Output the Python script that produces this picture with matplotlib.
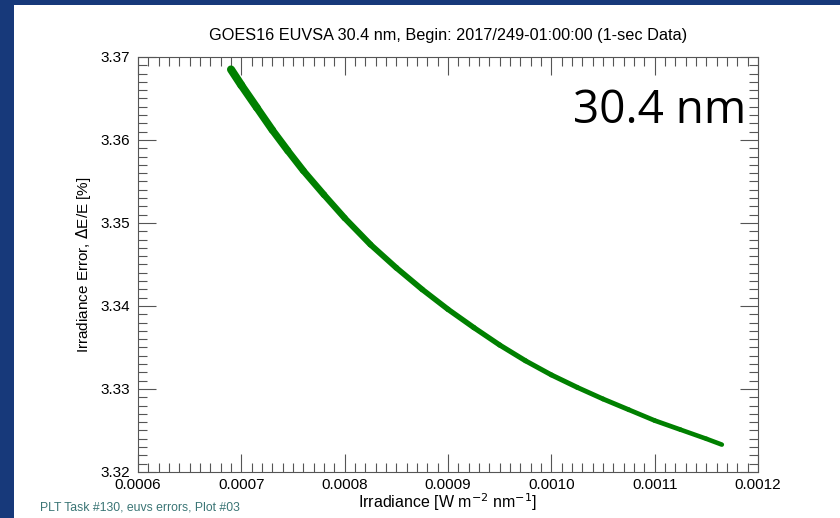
import matplotlib
matplotlib.use("Agg")
import matplotlib.pyplot as plt
from matplotlib.patches import Rectangle
from matplotlib.collections import LineCollection
from matplotlib.ticker import MultipleLocator, FormatStrFormatter

# irradiance [W m^-2 nm^-1] vs. relative error [%]
irradiance = [0.000690, 0.000700, 0.000715, 0.000730, 0.000745, 0.000760,
              0.000780, 0.000800, 0.000825, 0.000850, 0.000875, 0.000900,
              0.000925, 0.000950, 0.000975, 0.001000, 0.001025, 0.001050,
              0.001075, 0.001100, 0.001125, 0.001150, 0.001165]
error_pct = [3.3685, 3.3666, 3.3639, 3.3612, 3.3587, 3.3563,
             3.3534, 3.3506, 3.3474, 3.3446, 3.3420, 3.3396,
             3.3374, 3.3353, 3.3334, 3.3317, 3.3302, 3.3288,
             3.3275, 3.3262, 3.3251, 3.3240, 3.3233]

x_ticks = [0.0006, 0.0007, 0.0008, 0.0009, 0.0010, 0.0011, 0.0012]
y_ticks = [3.32, 3.33, 3.34, 3.35, 3.36, 3.37]

plt.rcParams['font.family'] = ['Liberation Sans', 'DejaVu Sans']

fig = plt.figure(figsize=(8.4, 5.18), dpi=100, facecolor='#17397a')
# white slide panel behind everything
fig.patches.append(Rectangle((14 / 840, 0), 1, 1 - 5 / 518, transform=fig.transFigure,
                             facecolor='white', edgecolor='none', zorder=-10))

ax = fig.add_axes([138 / 840, 1 - 472 / 518, 620 / 840, 415 / 518])

# the band of 1-sec points is thicker (noisier) at low irradiance
pts = list(zip(irradiance, error_pct))
segs = [[pts[i], pts[i + 1]] for i in range(len(pts) - 1)]
widths = [5.8, 5.6, 5.4, 5.2, 5.0, 4.8, 4.6, 4.4, 4.2, 4.1, 4.0,
          3.9, 3.8, 3.7, 3.6, 3.6, 3.5, 3.5, 3.4, 3.4, 3.3, 3.3]
lc = LineCollection(segs, colors='#008000', linewidths=widths, capstyle='round')
ax.add_collection(lc)

ax.set_xlim(0.0006, 0.0012)
ax.set_ylim(3.32, 3.37)
ax.set_xticks(x_ticks)
ax.set_yticks(y_ticks)
ax.xaxis.set_major_formatter(FormatStrFormatter('%.4f'))
ax.yaxis.set_major_formatter(FormatStrFormatter('%.2f'))
ax.xaxis.set_minor_locator(MultipleLocator(0.00001))
ax.yaxis.set_minor_locator(MultipleLocator(0.001))
ax.tick_params(which='both', direction='in', top=True, right=True,
               color='#555555', labelsize=11)
ax.tick_params(axis='y', pad=6)
ax.tick_params(axis='x', pad=4)
ax.tick_params(which='major', length=13, width=0.8)
ax.tick_params(which='minor', length=6.5, width=0.8)
for s in ax.spines.values():
    s.set_color('#555555')
    s.set_linewidth(0.8)

ax.set_title('GOES16 EUVSA 30.4 nm, Begin: 2017/249-01:00:00 (1-sec Data)',
             fontsize=11.7, pad=12)
ax.set_xlabel(r'Irradiance [W m$^{-2}$ nm$^{-1}$]', fontsize=11.5, labelpad=0)
ax.set_ylabel(r'Irradiance Error, $\Delta$E/E [%]', fontsize=11, labelpad=5)

ax.text(0.981, 0.84, '30.4 nm', transform=ax.transAxes, ha='right', va='baseline',
        fontsize=33, family=['Open Sans', 'DejaVu Sans'])

fig.text(40 / 840, 1 - 508 / 518, 'PLT Task #130, euvs errors, Plot #03',
         fontsize=8.8, color='#3a7575', va='center')

fig.savefig('out.png', dpi=100, facecolor=fig.get_facecolor())
